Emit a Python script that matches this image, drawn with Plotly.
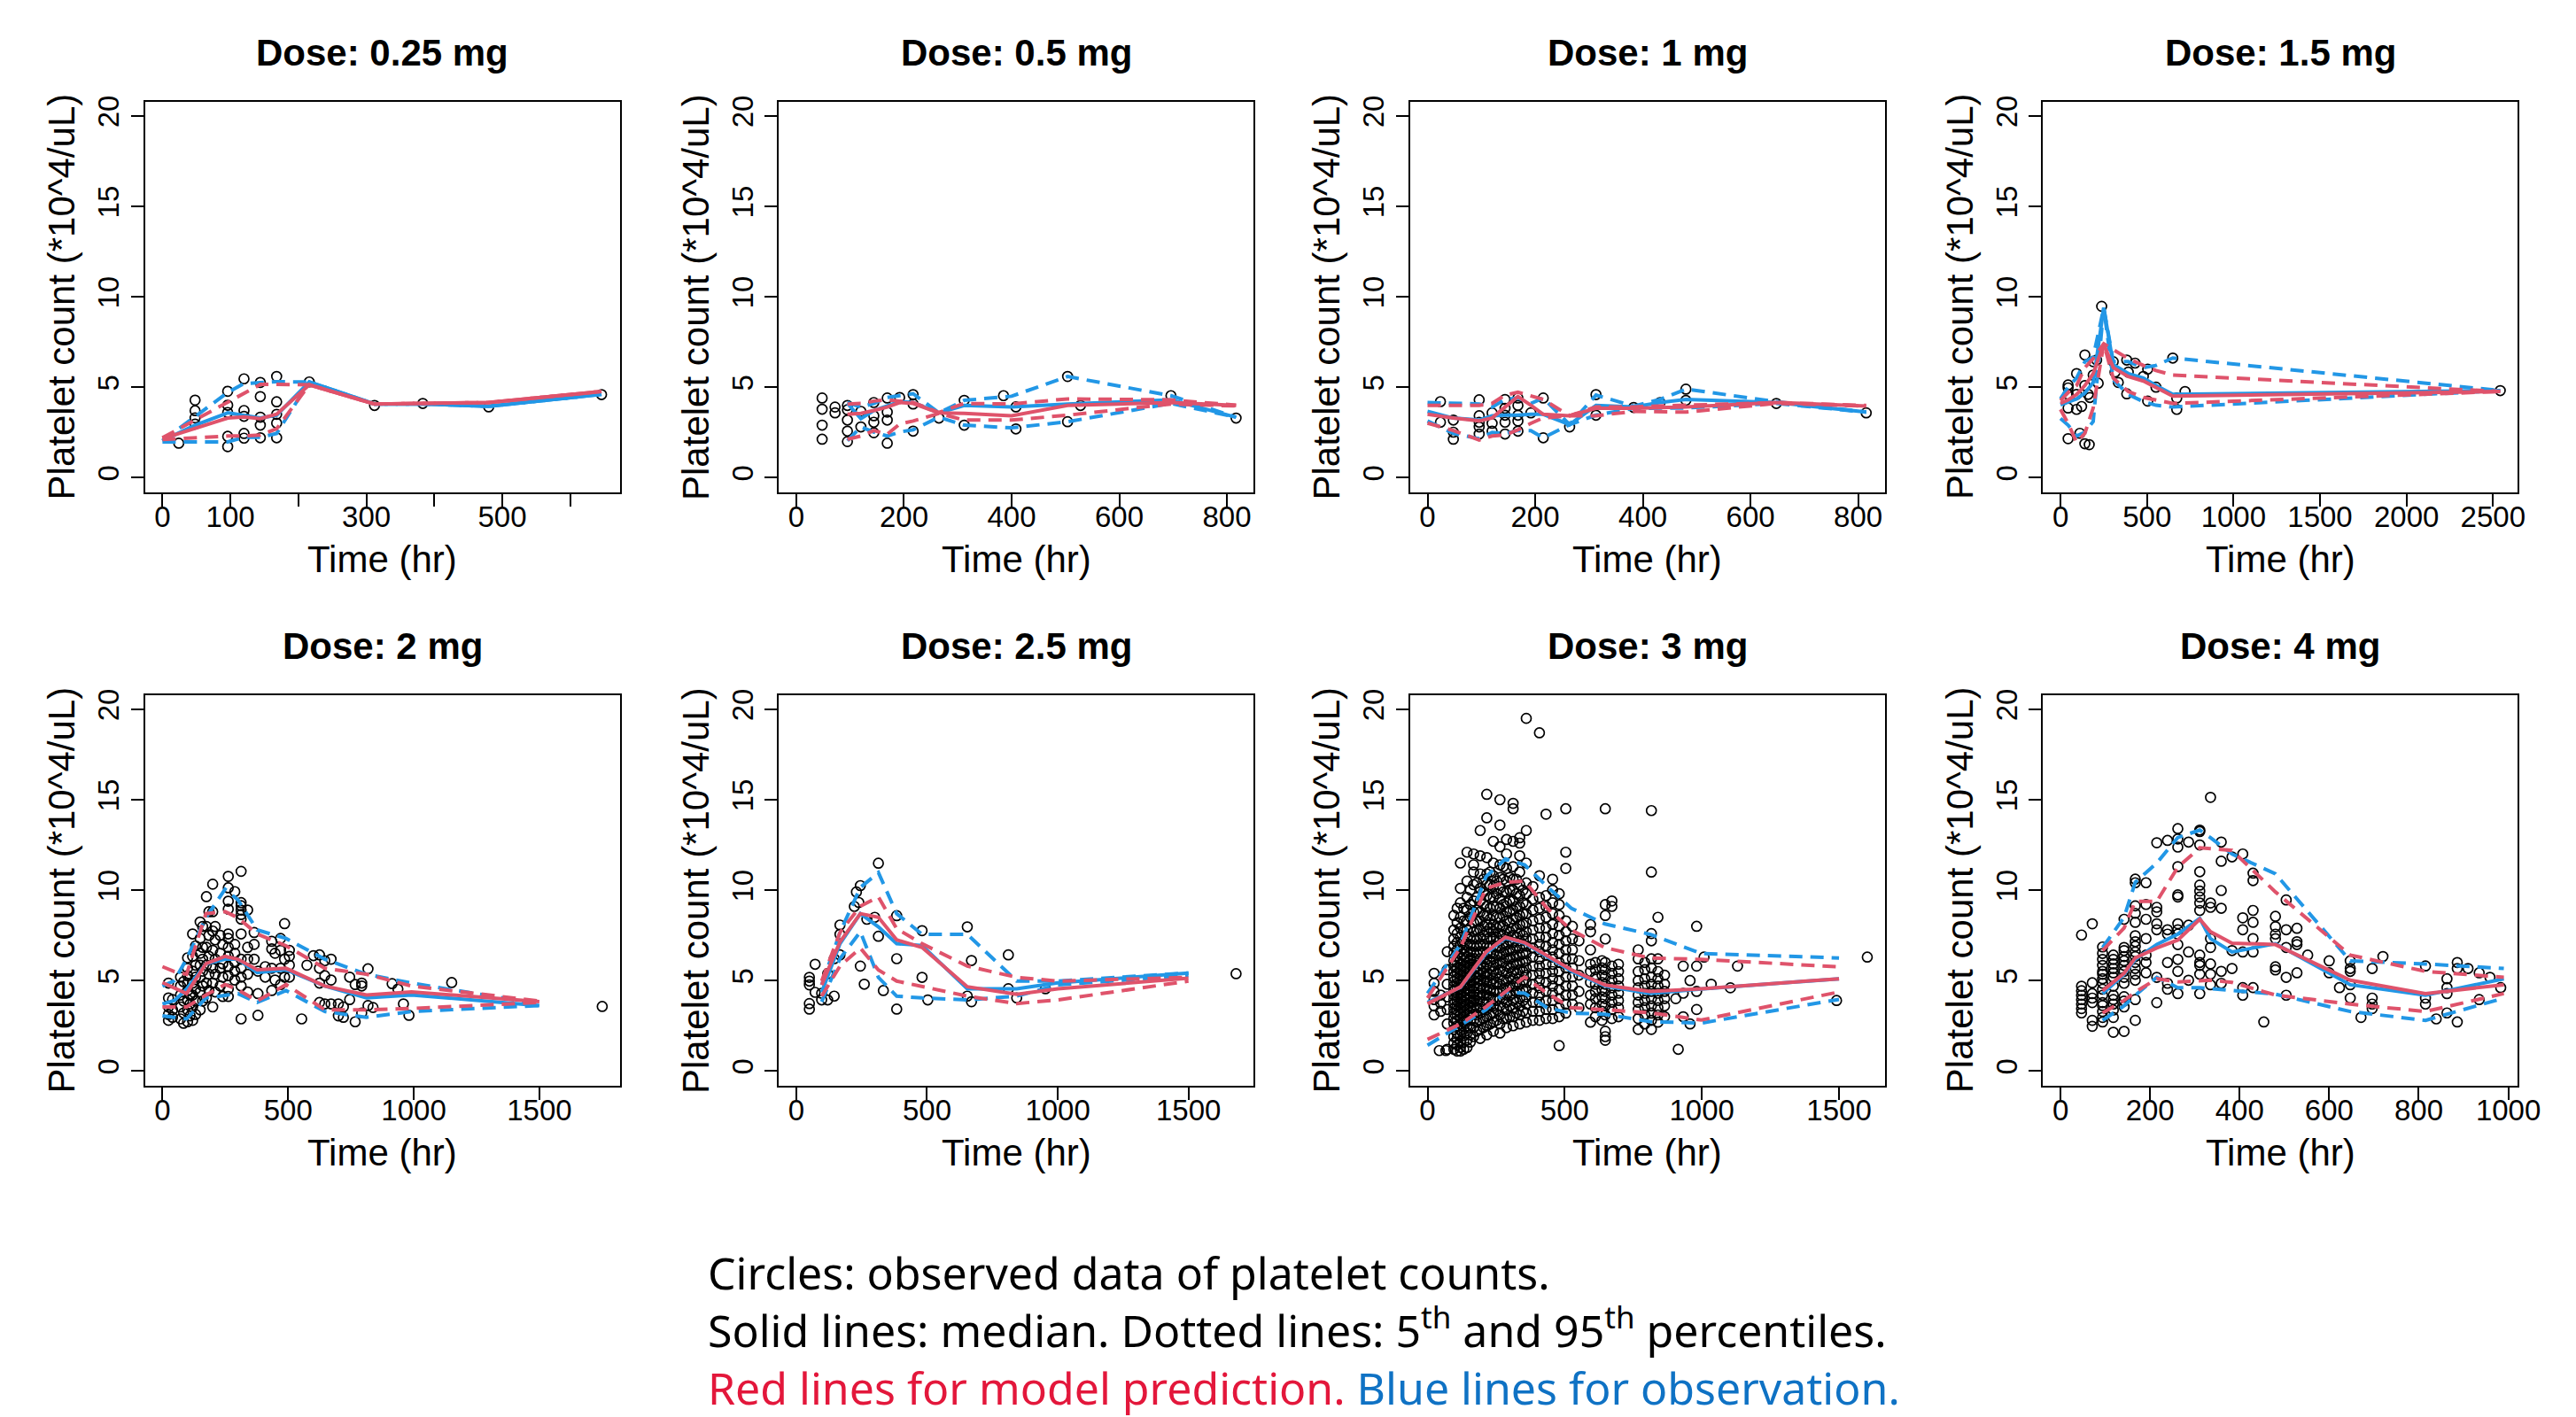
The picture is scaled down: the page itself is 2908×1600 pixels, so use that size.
import plotly.graph_objects as go

# ---------------- DATA ----------------
titles = ["Dose: 0.25 mg", "Dose: 0.5 mg", "Dose: 1 mg", "Dose: 1.5 mg",
          "Dose: 2 mg", "Dose: 2.5 mg", "Dose: 3 mg", "Dose: 4 mg"]

# observed platelet counts: sampling times and the values observed at each time
p1_t = [24, 48, 96, 120, 144, 168, 216, 312, 383, 480, 646]
p1_v = [[1.9], [4.28, 3.7, 3.3, 2.96], [4.77, 4.0, 3.6, 2.28, 1.71], [5.46, 3.71, 3.39, 2.44, 2.18],
        [5.26, 4.48, 3.34, 2.9, 2.2], [5.59, 4.19, 3.5, 3.01, 2.2], [5.29], [3.99], [4.1], [3.91], [4.59]]

p2_t = [48, 72, 95, 120, 144, 169, 192, 217, 265, 312, 385, 408, 504, 528, 696, 817]
p2_v = [[4.4, 3.78, 2.9, 2.12], [3.9, 3.58], [3.99, 3.75, 3.18, 2.57, 1.99], [3.66, 2.8],
        [4.15, 3.42, 3.06, 2.48], [4.4, 3.62, 3.18, 1.9], [4.43], [4.59, 4.07, 2.57], [3.29],
        [4.27, 2.9], [4.53], [3.91, 2.69], [5.59, 3.09], [3.99], [4.53], [3.29]]

p3_t = [24, 48, 96, 120, 144, 168, 192, 215, 264, 313, 383, 432, 480, 648, 815]
p3_v = [[4.2, 3.06], [3.18, 2.51, 2.12], [4.3, 3.42, 3.06, 2.8, 2.41], [3.58, 3.0, 2.57],
        [4.32, 3.83, 3.45, 3.06, 2.41], [4.4, 3.99, 3.45, 3.13, 2.57], [3.58], [4.4, 2.2], [2.8],
        [4.59, 3.45], [3.88], [4.15], [4.89, 4.27], [4.1], [3.58]]

p4_t = [44, 93, 112, 122, 141, 160, 166, 170, 189, 209, 218, 238, 305, 315, 334, 383, 392,
        431, 479, 504, 552, 649, 672, 720, 2542]
p4_v = [[5.12, 4.96, 4.6, 3.85, 2.15], [5.75, 4.6, 3.77], [2.45], [3.93], [6.78, 5.09, 1.87], [4.6],
        [1.82], [4.43], [6.41, 5.67], [6.5], [5.22], [9.47], [6.41], [5.83], [5.26], [6.5, 4.63],
        [5.83], [6.33], [5.59], [6.0, 4.23], [5.0], [6.61], [4.4, 3.77], [4.76], [4.81]]

p5_t = [24, 40, 72, 84, 100, 110, 120, 132, 150, 160, 175, 185, 200, 210, 230, 240, 262, 288,
        313, 339, 365, 380, 409, 435, 448, 470, 486, 505, 554, 575, 601, 625, 646, 671, 700,
        720, 745, 767, 793, 818, 838, 914, 937, 959, 981, 1151, 1750]
p5_v = [[4.86, 4.04, 3.54, 3.13, 2.8], [3.95, 3.38, 2.97], [5.19, 4.7, 4.2, 3.54, 2.88],
        [4.94, 3.87, 3.21, 2.64], [6.26, 5.68, 5.27, 4.86, 4.45, 3.95, 3.38, 2.72], [4.2, 3.71, 3.05],
        [7.58, 6.34, 5.52, 4.86, 4.2, 3.54, 2.8], [6.92, 5.85, 5.19, 4.53, 3.87, 3.13],
        [8.24, 7.33, 6.51, 5.85, 5.19, 4.37, 3.38], [7.99, 6.84, 6.18, 5.52, 4.7, 3.87],
        [9.64, 7.99, 6.84, 5.85, 4.86, 4.04], [8.81, 7.5, 6.34, 5.35, 4.45],
        [10.33, 8.81, 7.74, 6.67, 5.68, 4.86, 3.54], [7.99, 7.25, 6.18, 5.35, 4.37],
        [7.5, 6.51, 5.68, 4.7], [7.0, 5.93, 5.19, 4.12],
        [10.76, 10.13, 9.39, 8.95, 7.58, 7.33, 6.84, 6.34, 5.77, 5.27, 4.53, 4.12],
        [9.92, 7.0, 6.51, 6.01, 5.52, 5.03],
        [11.04, 9.31, 9.14, 8.9, 8.65, 8.4, 7.58, 6.18, 5.68, 5.19, 4.7, 2.88],
        [8.9, 6.84, 6.18, 5.35, 4.37], [7.66, 7.0, 6.18], [5.52, 4.28, 3.08], [5.77, 5.19],
        [7.17, 6.75, 5.68, 4.45], [6.51, 5.03], [7.33, 6.67, 5.68, 4.78], [8.15, 6.18, 5.19],
        [6.67, 6.34, 5.85, 5.19], [2.88], [5.85], [6.38], [6.42, 5.68, 4.86, 3.79], [6.1, 5.27, 3.71],
        [6.18, 5.03, 3.71], [3.71, 3.05], [3.54, 2.97], [5.19, 3.95], [4.78, 2.72], [4.86, 4.7, 3.21],
        [5.65, 3.62], [3.51], [4.83], [4.53], [3.71], [3.08], [4.89], [3.57]]

p6_t = [50, 72, 97, 120, 145, 167, 222, 230, 239, 245, 260, 270, 300, 314, 333, 384, 481, 503,
        654, 670, 811, 843, 953, 1682]
p6_v = [[3.42, 3.73, 4.76, 4.97, 5.18], [5.9, 4.35], [3.93, 4.3], [5.38, 3.93], [6.21, 4.14],
        [8.07, 7.56, 6.42], [9.1], [9.9], [9.32], [10.25, 5.8], [4.8], [8.39], [8.5], [11.49, 7.45],
        [4.45], [8.59, 6.21, 3.42], [7.76, 5.18], [3.93], [7.97, 4.14], [6.11, 3.83], [6.42, 4.55],
        [4.04], [4.55], [5.38]]

p7_t = [24, 43, 48, 67, 72, 96, 108, 120, 132, 144, 156, 168, 180, 192, 204, 216, 228, 240, 252,
        264, 276, 288, 300, 312, 324, 336, 348, 360, 384, 408, 432, 456, 480, 504, 528, 552, 594,
        612, 636, 648, 672, 696, 768, 792, 816, 840, 864, 905, 914, 932, 957, 981, 1008, 1034,
        1104, 1130, 1491, 1603]
p7_v = [
    [3.1, 3.6, 3.95, 4.4, 4.85, 5.4],
    [1.13],
    [3.3, 3.75, 4.2],
    [1.13],
    [1.2, 2.6, 3.4, 4.1, 4.8, 5.6, 6.6],
    [1.2, 1.55, 1.9, 2.3, 2.65, 2.9, 3.2, 3.45, 3.7, 3.95, 4.2, 4.45, 4.7, 4.95, 5.2, 5.5, 5.8, 6.1, 6.5, 6.9, 7.3, 7.8, 8.6],
    [1.1, 1.45, 1.8, 2.1, 2.5, 2.8, 3.1, 3.35, 3.6, 3.85, 4.1, 4.3, 4.6, 4.85, 5.1, 5.4, 5.7, 6.0, 6.35, 6.7, 7.1, 7.6, 8.2, 9.0],
    [1.1, 1.3, 1.65, 2.0, 2.25, 2.6, 2.9, 3.2, 3.5, 3.75, 4.0, 4.25, 4.5, 4.75, 5.0, 5.3, 5.6, 5.9, 6.2, 6.6, 7.0, 7.4, 7.9, 8.5, 9.3, 10.1, 11.5],
    [1.2, 1.6, 1.95, 2.3, 2.7, 3.0, 3.3, 3.6, 3.85, 4.1, 4.4, 4.65, 4.9, 5.2, 5.5, 5.8, 6.1, 6.45, 6.8, 7.2, 7.7, 8.3, 9.0],
    [1.3, 1.7, 2.1, 2.5, 2.8, 3.1, 3.4, 3.7, 4.0, 4.3, 4.55, 4.8, 5.1, 5.4, 5.7, 6.0, 6.3, 6.6, 7.0, 7.4, 7.8, 8.3, 8.9, 9.6, 10.5, 12.1],
    [1.6, 2.0, 2.4, 2.8, 3.2, 3.5, 3.8, 4.1, 4.4, 4.7, 5.0, 5.3, 5.6, 5.9, 6.25, 6.6, 7.0, 7.4, 7.9, 8.5, 9.2, 10.0],
    [1.9, 2.4, 2.8, 3.15, 3.5, 3.8, 4.1, 4.4, 4.7, 5.0, 5.3, 5.6, 5.9, 6.2, 6.55, 6.9, 7.3, 7.7, 8.2, 8.8, 9.4, 10.3, 11.0, 11.4, 12.0],
    [2.2, 2.7, 3.1, 3.5, 3.9, 4.2, 4.6, 4.9, 5.2, 5.5, 5.8, 6.1, 6.5, 6.9, 7.3, 7.8, 8.3, 8.9, 9.6, 10.4],
    [1.8, 2.3, 2.8, 3.2, 3.6, 4.0, 4.3, 4.7, 5.0, 5.3, 5.6, 5.9, 6.2, 6.6, 7.0, 7.4, 7.8, 8.3, 8.8, 9.4, 10.1, 10.9, 11.9, 13.3],
    [2.4, 2.9, 3.4, 3.8, 4.2, 4.6, 5.0, 5.4, 5.8, 6.2, 6.6, 7.0, 7.5, 8.0, 8.6, 9.2, 9.9, 10.6],
    [2.0, 2.5, 3.0, 3.4, 3.8, 4.2, 4.5, 4.9, 5.2, 5.5, 5.9, 6.2, 6.5, 6.9, 7.3, 7.7, 8.1, 8.6, 9.1, 9.7, 10.3, 10.9, 11.8, 14.0, 15.3],
    [2.6, 3.1, 3.6, 4.1, 4.5, 4.9, 5.3, 5.7, 6.1, 6.5, 6.9, 7.4, 7.9, 8.4, 9.0, 9.6, 10.3, 11.0],
    [2.2, 2.7, 3.2, 3.6, 4.0, 4.4, 4.8, 5.1, 5.5, 5.8, 6.2, 6.5, 6.9, 7.3, 7.7, 8.1, 8.6, 9.1, 9.6, 10.2, 10.8, 11.5, 12.7],
    [2.8, 3.4, 3.9, 4.4, 4.9, 5.4, 5.9, 6.4, 6.9, 7.4, 7.9, 8.5, 9.1, 9.8, 10.5],
    [2.1, 2.6, 3.1, 3.6, 4.0, 4.4, 4.8, 5.2, 5.6, 6.0, 6.4, 6.8, 7.2, 7.6, 8.0, 8.5, 9.0, 9.5, 10.1, 10.7, 11.4, 12.4, 13.6, 15.0],
    [2.9, 3.5, 4.0, 4.5, 5.0, 5.5, 6.0, 6.5, 7.0, 7.5, 8.0, 8.6, 9.2, 9.9, 10.6, 11.3],
    [2.4, 2.9, 3.4, 3.8, 4.2, 4.6, 5.0, 5.4, 5.8, 6.2, 6.6, 7.0, 7.4, 7.8, 8.3, 8.8, 9.3, 9.9, 10.5, 11.2, 12.0, 12.8],
    [3.0, 3.6, 4.2, 4.7, 5.2, 5.7, 6.2, 6.7, 7.2, 7.7, 8.2, 8.8, 9.4, 10.0, 10.7],
    [2.5, 3.0, 3.5, 3.9, 4.3, 4.7, 5.1, 5.5, 5.9, 6.3, 6.7, 7.1, 7.5, 7.9, 8.4, 8.9, 9.4, 10.0, 10.6, 11.3, 12.7, 14.5, 14.8],
    [3.2, 3.8, 4.4, 4.9, 5.4, 5.9, 6.4, 6.9, 7.4, 7.9, 8.5, 9.1, 9.8, 10.6],
    [2.6, 3.1, 3.6, 4.0, 4.4, 4.8, 5.2, 5.6, 6.0, 6.4, 6.8, 7.2, 7.6, 8.1, 8.6, 9.1, 9.7, 10.3, 11.0, 11.9, 12.6, 12.9],
    [3.3, 3.9, 4.5, 5.0, 5.5, 6.0, 6.5, 7.0, 7.5, 8.1, 8.7, 9.3, 10.0],
    [2.7, 3.2, 3.7, 4.1, 4.5, 4.9, 5.3, 5.7, 6.1, 6.5, 6.9, 7.3, 7.7, 8.2, 8.7, 9.2, 9.8, 10.4, 11.5, 13.3, 19.5],
    [2.8, 3.3, 3.8, 4.3, 4.8, 5.3, 5.8, 6.3, 6.8, 7.3, 7.8, 8.3, 8.9, 9.5, 10.2],
    [2.8, 3.3, 3.8, 4.2, 4.6, 5.0, 5.4, 5.8, 6.2, 6.6, 7.0, 7.4, 7.9, 8.4, 9.0, 9.6, 10.8, 18.7],
    [2.9, 3.4, 3.9, 4.4, 4.9, 5.4, 5.9, 6.4, 6.9, 7.4, 7.9, 8.5, 9.1, 9.7, 14.2],
    [2.9, 3.4, 3.9, 4.3, 4.7, 5.1, 5.5, 5.9, 6.3, 6.7, 7.1, 7.6, 8.1, 8.7, 9.3, 10.0, 10.6],
    [1.4, 3.0, 3.5, 4.0, 4.5, 5.0, 5.5, 6.0, 6.5, 7.0, 7.5, 8.0, 8.6, 9.2, 9.8],
    [3.2, 3.7, 4.2, 4.7, 5.2, 5.7, 6.2, 6.7, 7.2, 7.7, 8.3, 11.2, 12.1, 14.5],
    [3.7, 4.2, 4.7, 5.2, 5.7, 6.2, 6.7, 7.3, 8.0],
    [3.5, 4.4, 5.3, 6.1, 7.2],
    [2.7, 3.7, 4.2, 4.9, 5.5, 5.9, 6.7, 7.7, 8.1],
    [3.0, 3.5, 4.0, 4.4, 4.8, 5.2, 5.6, 6.0],
    [2.8, 3.3, 3.7, 4.1, 4.5, 4.9, 5.3, 5.7, 6.1],
    [1.7, 1.9, 2.2, 3.1, 3.6, 4.0, 4.4, 4.8, 5.2, 5.6, 6.0, 7.3, 8.6, 9.2, 14.5],
    [2.9, 3.4, 3.8, 4.2, 4.6, 5.0, 5.4, 5.8, 9.1, 9.4],
    [3.0, 3.5, 3.9, 4.3, 4.7, 5.1, 5.5, 5.9],
    [2.3, 2.9, 3.4, 3.8, 4.2, 4.6, 5.0, 5.5, 6.2, 6.7],
    [2.6, 3.1, 3.5, 3.9, 4.3, 4.7, 5.1, 5.6, 6.0],
    [2.3, 2.8, 3.2, 3.6, 4.0, 4.4, 4.8, 5.2, 5.7, 6.2, 7.2, 7.6, 11.0, 14.4],
    [2.7, 3.1, 3.5, 3.9, 4.3, 4.7, 5.1, 5.5, 6.2, 8.5],
    [3.0, 3.6, 4.0, 4.4, 4.8, 5.3],
    [4.0], [1.2], [3.0, 4.3, 5.8], [2.6, 5.0], [3.4, 4.4, 5.8, 8.0], [6.3], [4.8], [4.6], [5.8],
    [3.9], [6.3]]

p8_t = [47, 71, 94, 118, 142, 167, 191, 215, 239, 262, 286, 311, 335, 359, 383, 407, 430, 454,
        480, 504, 528, 552, 600, 623, 647, 671, 696, 720, 815, 839, 863, 886, 910, 935, 959, 983]
p8_v = [[7.52, 4.69, 4.44, 4.19, 3.95, 3.7, 3.45, 3.21], [8.14, 4.88, 4.28, 4.03, 3.78, 2.8, 2.47],
        [6.86, 6.5, 6.17, 5.84, 5.51, 5.35, 5.1, 4.85, 4.52, 4.19, 3.78, 3.62, 3.29, 2.96, 2.71],
        [6.41, 6.17, 5.92, 5.67, 5.43, 5.18, 4.69, 4.19, 3.95, 3.7, 3.37, 2.96, 2.14],
        [8.39, 6.83, 6.66, 6.33, 6.09, 5.84, 5.51, 5.18, 4.85, 4.11, 3.87, 3.54, 2.19],
        [10.61, 10.41, 9.13, 8.72, 8.22, 7.48, 7.15, 6.9, 6.58, 6.33, 6.0, 5.67, 5.35, 5.02, 3.95, 2.8],
        [10.41, 9.21, 8.39, 7.32, 6.41, 6.0, 5.43], [12.62, 9.05, 8.8, 8.14, 7.81, 5.18, 3.78],
        [12.75, 7.81, 7.57, 6.0, 4.85, 4.52],
        [13.4, 12.83, 12.38, 11.3, 9.74, 9.62, 8.14, 7.81, 7.57, 6.99, 6.17, 5.51, 4.28],
        [12.66, 8.06, 6.58, 5.02],
        [13.32, 13.24, 12.5, 11.02, 10.28, 9.95, 9.62, 9.29, 8.88, 6.41, 6.0, 5.84, 5.35, 4.28],
        [15.13, 9.29, 9.05, 7.32, 6.83, 5.92, 5.35, 4.77], [12.66, 11.6, 9.98, 9.0, 5.51, 4.85],
        [11.84, 6.66, 5.67], [12.0, 8.47, 7.81, 6.58, 4.61, 4.19],
        [10.94, 10.53, 8.88, 8.22, 7.32, 6.58, 4.61], [2.71], [8.55, 7.98, 7.57, 7.32, 5.76, 5.59],
        [9.46, 7.81, 6.83, 5.18, 4.19], [7.89, 7.15, 6.99, 5.43], [6.41], [6.09, 5.43], [4.61],
        [6.09, 5.67, 5.51, 4.77, 4.03], [2.96], [5.67, 4.03, 3.7, 3.45], [6.33], [5.81, 4.03, 3.7],
        [2.88], [5.1, 4.61, 4.28, 3.21], [6.0, 5.67, 2.71], [5.67], [5.43, 3.95], [5.18], [4.61]]

# VPC lines: time bins, observed (blue) and model-predicted (red) median / 5th / 95th percentiles
b1 = [0, 48, 96, 120, 144, 168, 216, 312, 383, 480, 646]
o1_med = [2.04, 2.9, 3.58, 3.42, 3.29, 3.45, 5.29, 4.07, 4.07, 3.94, 4.6]
o1_lo = [1.97, 1.97, 1.97, 2.23, 2.23, 2.44, 5.29, 4.07, 4.07, 3.94, 4.6]
o1_hi = [2.04, 3.4, 4.7, 5.2, 5.26, 5.3, 5.29, 4.07, 4.07, 3.94, 4.6]
r1_med = [2.15, 2.7, 3.29, 3.35, 3.26, 3.5, 5.13, 4.07, 4.1, 4.15, 4.76]
r1_lo = [2.1, 2.2, 2.3, 2.3, 2.35, 2.7, 5.13, 4.07, 4.1, 4.15, 4.76]
r1_hi = [2.2, 3.2, 4.2, 4.7, 5.15, 5.15, 5.13, 4.07, 4.1, 4.15, 4.76]

b2 = [95, 120, 144, 169, 192, 217, 265, 312, 400, 504, 696, 817]
o2_med = [4.1, 3.26, 3.71, 3.94, 4.2, 4.15, 3.58, 3.99, 3.91, 4.07, 4.3, 3.34]
o2_lo = [2.04, 2.8, 2.52, 2.3, 2.52, 2.64, 3.34, 2.9, 2.75, 3.09, 4.1, 3.34]
o2_hi = [4.15, 3.9, 4.1, 4.43, 4.53, 4.64, 3.58, 4.27, 4.5, 5.59, 4.53, 3.34]
r2_med = [3.5, 3.55, 3.71, 3.9, 4.15, 4.1, 3.58, 3.55, 3.42, 3.99, 4.15, 3.99]
r2_lo = [2.12, 2.3, 2.6, 2.4, 2.96, 3.13, 3.55, 3.18, 3.18, 3.45, 4.07, 3.96]
r2_hi = [4.07, 4.1, 4.23, 4.3, 4.23, 4.15, 3.6, 4.1, 4.07, 4.35, 4.3, 4.0]

b3 = [0, 48, 96, 120, 144, 168, 192, 215, 264, 313, 383, 432, 480, 648, 815]
o3_med = [3.66, 3.29, 3.18, 3.42, 3.45, 3.45, 3.5, 3.5, 2.93, 3.99, 3.91, 4.15, 4.32, 4.15, 3.62]
o3_lo = [3.13, 2.44, 2.15, 2.5, 2.44, 2.6, 2.6, 2.2, 2.93, 3.45, 3.83, 3.85, 3.85, 4.1, 3.62]
o3_hi = [4.15, 4.1, 4.07, 3.9, 4.32, 4.4, 4.1, 4.4, 2.93, 4.56, 3.95, 4.32, 4.89, 4.2, 3.62]
r3_med = [3.5, 3.29, 3.13, 3.3, 3.9, 4.48, 4.0, 3.5, 3.42, 3.83, 3.83, 3.87, 3.91, 4.15, 3.96]
r3_lo = [3.01, 2.6, 2.08, 2.3, 2.36, 2.64, 3.0, 3.3, 3.42, 3.42, 3.66, 3.62, 3.62, 4.1, 3.96]
r3_hi = [3.99, 3.99, 3.99, 4.1, 4.56, 4.72, 4.5, 4.32, 3.42, 3.91, 3.91, 3.95, 3.99, 4.15, 3.99]

b4 = [0, 44, 93, 141, 189, 250, 305, 392, 479, 552, 649, 2542]
o4_med = [4.02, 4.2, 4.35, 4.68, 5.26, 9.39, 6.25, 5.75, 5.5, 5.09, 4.6, 4.81]
o4_lo = [3.27, 2.9, 2.3, 2.5, 3.1, 9.39, 5.4, 4.6, 4.2, 4.0, 3.9, 4.81]
o4_hi = [4.35, 5.0, 5.5, 6.41, 6.66, 9.39, 6.41, 6.41, 6.08, 6.2, 6.61, 4.81]
r4_med = [4.1, 4.3, 4.6, 5.09, 5.75, 7.4, 6.08, 5.59, 5.34, 5.0, 4.51, 4.76]
r4_lo = [3.77, 3.0, 1.95, 2.45, 3.85, 7.4, 5.5, 4.76, 4.43, 4.3, 4.1, 4.76]
r4_hi = [4.26, 4.7, 5.09, 6.08, 6.58, 7.4, 7.07, 6.58, 6.2, 5.92, 5.67, 4.76]

b5 = [0, 48, 96, 173, 249, 300, 377, 492, 646, 812, 991, 1500]
o5_med = [3.71, 3.9, 4.53, 5.93, 6.18, 6.18, 5.44, 5.6, 4.7, 4.04, 4.2, 3.62]
o5_lo = [3.05, 2.97, 2.88, 4.04, 4.2, 4.28, 3.79, 4.45, 3.29, 2.97, 3.29, 3.62]
o5_hi = [4.7, 5.0, 6.2, 8.48, 10.05, 9.47, 7.8, 7.33, 6.18, 5.35, 4.86, 3.71]
r5_med = [4.89, 4.6, 4.28, 5.93, 6.34, 6.18, 5.6, 5.68, 4.7, 4.2, 4.37, 3.84]
r5_lo = [3.54, 3.54, 3.54, 4.2, 4.78, 4.5, 3.87, 4.78, 3.38, 3.38, 3.46, 3.79]
r5_hi = [5.77, 5.5, 5.35, 8.7, 8.81, 8.48, 7.58, 6.92, 5.68, 5.35, 4.7, 3.87]

b6 = [97, 167, 245, 314, 384, 481, 654, 843, 1000, 1500]
o6_med = [4.35, 7.04, 8.7, 7.97, 7.04, 6.94, 4.55, 4.55, 4.87, 5.42]
o6_lo = [3.83, 6.21, 7.7, 5.18, 4.14, 4.04, 3.93, 4.14, 4.76, 5.28]
o6_hi = [4.76, 7.66, 10.15, 10.97, 8.7, 7.56, 7.56, 4.97, 4.97, 5.42]
r6_med = [4.76, 7.14, 8.7, 8.5, 7.25, 6.83, 4.66, 4.24, 4.55, 5.13]
r6_lo = [4.14, 5.8, 6.8, 5.59, 4.97, 4.66, 4.14, 3.73, 3.93, 4.97]
r6_hi = [4.97, 7.66, 9.11, 9.63, 7.87, 7.04, 5.8, 5.18, 4.97, 5.18]

b7 = [0, 120, 213, 284, 354, 436, 524, 647, 811, 998, 1500]
o7_med = [3.8, 4.62, 6.5, 7.35, 7.07, 6.33, 5.52, 4.7, 4.29, 4.53, 5.1]
o7_lo = [1.42, 2.5, 3.39, 4.37, 4.3, 3.5, 3.2, 3.14, 2.73, 2.65, 3.96]
o7_hi = [4.29, 6.99, 10.75, 11.73, 11.4, 10.2, 9.0, 8.13, 7.56, 6.5, 6.25]
r7_med = [3.72, 4.65, 6.58, 7.4, 7.1, 6.4, 5.6, 4.75, 4.4, 4.55, 5.1]
r7_lo = [1.75, 2.6, 3.55, 4.4, 5.2, 4.3, 3.5, 3.39, 3.22, 2.82, 4.37]
r7_hi = [4.04, 6.82, 10.1, 10.43, 10.5, 9.0, 7.8, 6.82, 6.25, 6.17, 5.76]

b8 = [94, 142, 167, 215, 262, 311, 335, 383, 480, 647, 815, 990]
o8_med = [4.28, 5.35, 6.17, 6.99, 7.57, 8.44, 7.32, 6.58, 7.04, 4.77, 4.19, 5.1]
o8_lo = [2.8, 3.6, 4.19, 5.18, 4.61, 4.61, 4.55, 4.45, 4.25, 3.29, 2.8, 4.03]
o8_hi = [6.83, 8.5, 10.44, 11.5, 12.91, 13.32, 12.9, 12.0, 10.9, 6.09, 5.92, 5.67]
r8_med = [4.44, 5.4, 6.25, 6.8, 7.24, 8.39, 7.7, 7.07, 6.99, 5.02, 4.28, 4.77]
r8_lo = [3.21, 3.9, 4.36, 5.1, 4.93, 5.02, 5.02, 4.9, 4.2, 3.7, 3.29, 4.28]
r8_hi = [6.66, 7.9, 9.38, 9.38, 11.27, 12.34, 12.3, 12.2, 9.9, 6.41, 5.51, 5.18]

# x-axis limits (time span of each panel), labelled ticks and unlabelled ticks
x_max = [647, 817, 817, 2542, 1750, 1682, 1603, 982]
x_ticks = [[0, 100, 300, 500], [0, 200, 400, 600, 800], [0, 200, 400, 600, 800],
           [0, 500, 1000, 1500, 2000, 2500], [0, 500, 1000, 1500], [0, 500, 1000, 1500],
           [0, 500, 1000, 1500], [0, 200, 400, 600, 800, 1000]]
x_ticks_unlabelled = [[200, 400, 600], [], [], [], [], [], [], []]
y_ticks = [0, 5, 10, 15, 20]

x_label = "Time (hr)"
y_label = "Platelet count (*10^4/uL)"
caption1 = "Circles: observed data of platelet counts."
caption2 = "Solid lines: median. Dotted lines: 5<sup>th</sup> and 95<sup>th</sup> percentiles."
caption3a = "Red lines for model prediction."
caption3b = "Blue lines for observation."

obs_t = [p1_t, p2_t, p3_t, p4_t, p5_t, p6_t, p7_t, p8_t]
obs_v = [p1_v, p2_v, p3_v, p4_v, p5_v, p6_v, p7_v, p8_v]
bins = [b1, b2, b3, b4, b5, b6, b7, b8]
obs_lines = [(o1_med, o1_lo, o1_hi), (o2_med, o2_lo, o2_hi), (o3_med, o3_lo, o3_hi), (o4_med, o4_lo, o4_hi),
             (o5_med, o5_lo, o5_hi), (o6_med, o6_lo, o6_hi), (o7_med, o7_lo, o7_hi), (o8_med, o8_lo, o8_hi)]
pred_lines = [(r1_med, r1_lo, r1_hi), (r2_med, r2_lo, r2_hi), (r3_med, r3_lo, r3_hi), (r4_med, r4_lo, r4_hi),
              (r5_med, r5_lo, r5_hi), (r6_med, r6_lo, r6_hi), (r7_med, r7_lo, r7_hi), (r8_med, r8_lo, r8_hi)]

# ---------------- LAYOUT ----------------
W, H = 2908, 1600
BOX_LEFT = [165, 887, 1606, 2327]
BOX_TOP = [108, 781]
BOX_W, BOX_H = 541, 443
BLUE = "#2297E6"
RED = "#DF536B"
FONT = "Liberation Sans, Arial, sans-serif"
DASH = "15px,9px"
TICK_SIZE = 33

fig = go.Figure()
annotations = []

for i in range(8):
    row, col = divmod(i, 4)
    n = i + 1
    xa = "x" if n == 1 else f"x{n}"
    ya = "y" if n == 1 else f"y{n}"
    left, top = BOX_LEFT[col], BOX_TOP[row]

    xs, ys = [], []
    for t, vals in zip(obs_t[i], obs_v[i]):
        for v in vals:
            xs.append(t)
            ys.append(v)
    fig.add_trace(go.Scatter(x=xs, y=ys, mode="markers", xaxis=xa, yaxis=ya,
                             marker=dict(symbol="circle-open", size=11, color="black",
                                         line=dict(width=1.7, color="black")),
                             hoverinfo="skip"))
    for series, color in ((obs_lines[i], BLUE), (pred_lines[i], RED)):
        med, lo, hi = series
        for yv, dash in ((lo, DASH), (hi, DASH), (med, "solid")):
            fig.add_trace(go.Scatter(x=bins[i], y=yv, mode="lines", xaxis=xa, yaxis=ya,
                                     line=dict(color=color, width=4, dash=dash),
                                     hoverinfo="skip"))

    pad = 0.04 * x_max[i]
    axis_common = dict(showline=True, linecolor="black", linewidth=2, mirror=True,
                       ticks="outside", ticklen=14, tickwidth=2, tickcolor="black",
                       showgrid=False, zeroline=False,
                       tickfont=dict(family=FONT, size=TICK_SIZE, color="black"))
    xdict = dict(domain=[left / W, (left + BOX_W) / W], anchor=ya,
                 range=[-pad, x_max[i] + pad], tickmode="array",
                 tickvals=x_ticks[i], ticktext=[str(v) for v in x_ticks[i]],
                 ticklabelstandoff=-16, **axis_common)
    if x_ticks_unlabelled[i]:
        xdict["minor"] = dict(tickmode="array", tickvals=x_ticks_unlabelled[i], ticks="outside",
                              ticklen=14, tickwidth=2, tickcolor="black", showgrid=False)
    fig.layout[("xaxis" if n == 1 else f"xaxis{n}")] = xdict
    fig.layout[("yaxis" if n == 1 else f"yaxis{n}")] = dict(
        domain=[1 - (top + BOX_H) / H, 1 - top / H], anchor=xa,
        range=[-0.8, 20.8], tickmode="array", tickvals=y_ticks,
        ticktext=[str(v) for v in y_ticks], tickangle=-90, **axis_common)

    cx = (left + BOX_W / 2) / W
    annotations.append(dict(text=f"<b>{titles[i]}</b>", x=cx, y=1 - (top - 55) / H,
                            xref="paper", yref="paper", showarrow=False,
                            xanchor="center", yanchor="middle",
                            font=dict(family=FONT, size=42, color="black")))
    annotations.append(dict(text=x_label, x=cx, y=1 - (top + BOX_H + 76) / H,
                            xref="paper", yref="paper", showarrow=False,
                            xanchor="center", yanchor="middle",
                            font=dict(family=FONT, size=42, color="black")))
    annotations.append(dict(text=y_label, x=(left - 95) / W, y=1 - (top + BOX_H / 2) / H,
                            xref="paper", yref="paper", showarrow=False, textangle=-90,
                            xanchor="center", yanchor="middle",
                            font=dict(family=FONT, size=42, color="black")))

CAP_FONT = "Noto Sans, Open Sans, sans-serif"
CAP_SIZE = 50
caption = (caption1 + "<br>" + caption2 + "<br>"
           + f'<span style="color:#E3173B">{caption3a}</span> '
           + f'<span style="color:#0F72C4">{caption3b}</span>')
annotations.append(dict(text=caption, x=804 / W, y=1 - 1502 / H, xref="paper", yref="paper",
                        showarrow=False, xanchor="left", yanchor="middle", align="left",
                        font=dict(family=CAP_FONT, size=CAP_SIZE, color="black")))

fig.update_layout(width=W, height=H, margin=dict(l=0, r=0, t=0, b=0, pad=0),
                  paper_bgcolor="white", plot_bgcolor="white", showlegend=False,
                  annotations=annotations)

fig.write_html("out.html", include_plotlyjs=True, config={"displayModeBar": False},
               post_script="document.body.style.margin='0';document.body.style.overflow='hidden';")
